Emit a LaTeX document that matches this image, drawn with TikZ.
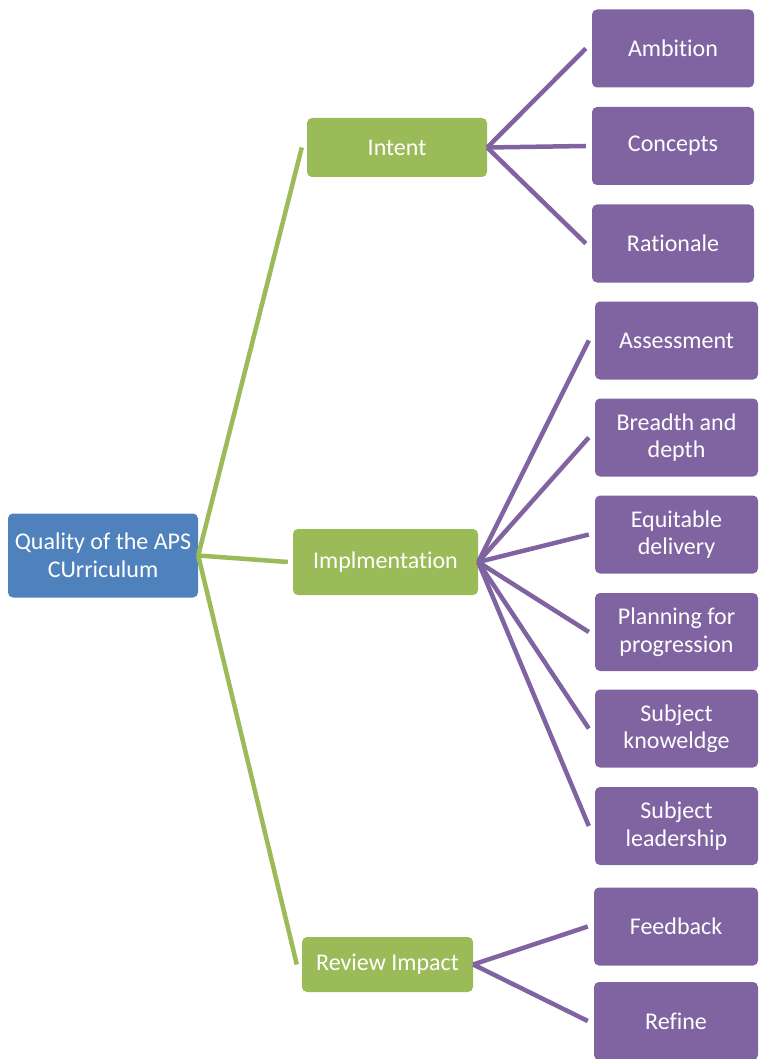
\documentclass[tikz,border=0pt]{standalone}
\usepackage{fontspec}
\setmainfont[Ligatures=NoCommon]{Carlito}

\definecolor{rootblue}{HTML}{4F81BD}
\definecolor{stemgreen}{HTML}{9BBB59}
\definecolor{leafpurple}{HTML}{8064A2}

\begin{document}
\begin{tikzpicture}[x=1pt,y=-1pt,
    box/.style={fill=#1, text=white, rounded corners=5pt, align=center,
      inner sep=0pt, font=\fontsize{24}{27.5}\selectfont},
    stem/.style={box=stemgreen},
    leaf/.style={box=leafpurple, minimum width=163pt, minimum height=78pt},
    greenline/.style={stemgreen, line width=4.5pt},
    purpleline/.style={leafpurple, line width=4.5pt}]

  \useasboundingbox (0,0) rectangle (758,1059);

  % root and the three stages
  \node[box=rootblue, minimum width=190pt, minimum height=84pt] (root) at (103,555.5)
    {Quality of the APS\\CUrriculum};
  \node[stem, minimum width=180pt, minimum height=59pt] (intent) at (397,147.5) {Intent};
  \node[stem, minimum width=185pt, minimum height=66pt] (impl) at (385.5,562) {Implmentation};
  \node[stem, minimum width=171pt, minimum height=55pt] (review) at (387.5,964.5) {Review Impact};

  % leaves
  \node[leaf, minimum width=162pt] (ambition) at (673,48.5) {Ambition};
  \node[leaf, minimum width=162pt] (concepts) at (673,146) {Concepts};
  \node[leaf, minimum width=162pt] (rationale) at (673,243.5) {Rationale};

  \node[leaf] (assess) at (676.5,340.5) {Assessment};
  \node[leaf] (breadth) at (676.5,437.5) {Breadth and\\depth};
  \node[leaf] (equit) at (676.5,534.5) {Equitable\\delivery};
  \node[leaf] (plan) at (676.5,632) {Planning for\\progression};
  \node[leaf] (knowl) at (676.5,728.5) {Subject\\knoweldge};
  \node[leaf] (lead) at (676.5,826) {Subject\\leadership};

  \node[leaf, minimum width=164pt] (feedback) at (676,926.5) {Feedback};
  \node[leaf, minimum width=164pt] (refine) at (676,1021) {Refine};

  % connectors
  \draw[greenline] (root.east) -- ([xshift=-5pt]intent.west);
  \draw[greenline] (root.east) -- ([xshift=-5pt]impl.west);
  \draw[greenline] (root.east) -- ([xshift=-5pt]review.west);

  \foreach \leafname in {ambition,concepts,rationale}
    \draw[purpleline] (intent.east) -- ([xshift=-6pt]\leafname.west);
  \foreach \leafname in {assess,breadth,equit,plan,knowl,lead}
    \draw[purpleline] (impl.east) -- ([xshift=-6pt]\leafname.west);
  \foreach \leafname in {feedback,refine}
    \draw[purpleline] (review.east) -- ([xshift=-6pt]\leafname.west);

\end{tikzpicture}
\end{document}
